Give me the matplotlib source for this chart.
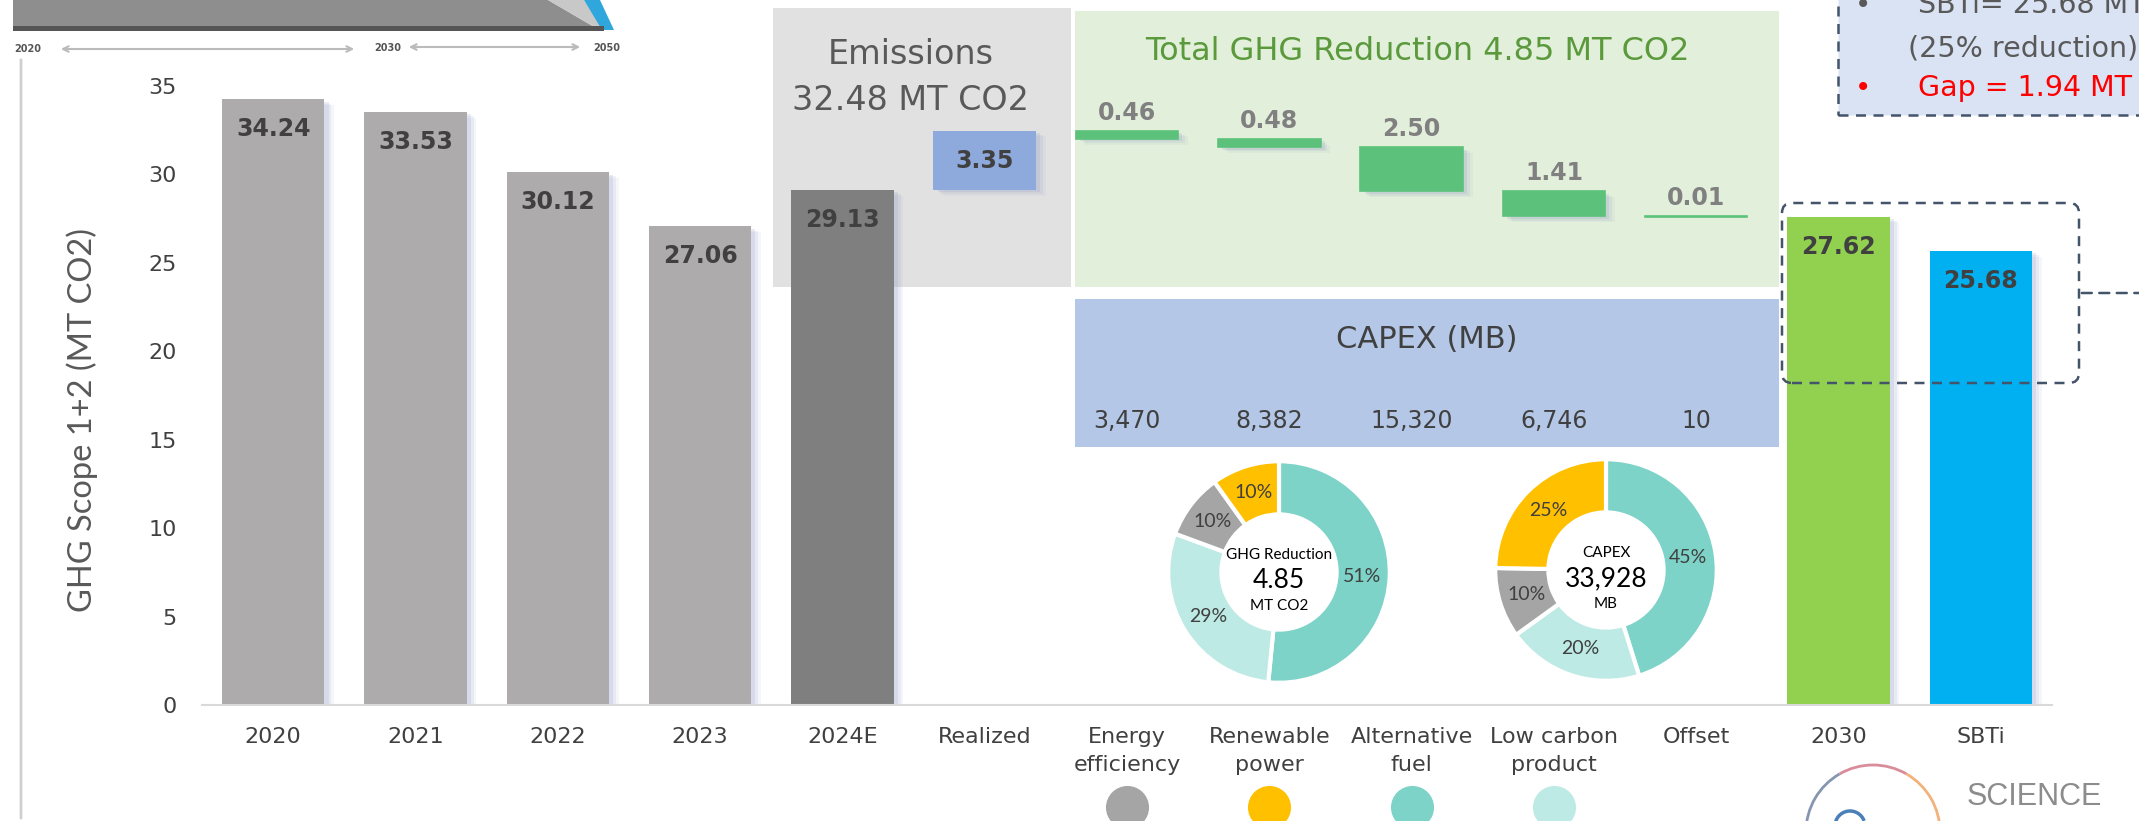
import numpy as np
import matplotlib
matplotlib.use('Agg')
import matplotlib.pyplot as plt
import matplotlib.patheffects as pe
from matplotlib.patches import Rectangle, FancyBboxPatch, Arc, Polygon
from matplotlib.transforms import blended_transform_factory

# figure size in pixels
W, H = 2139, 821
DPI = 100

# data
categories = ['2020', '2021', '2022', '2023', '2024E', 'Realized',
              'Energy\nefficiency', 'Renewable\npower', 'Alternative\nfuel',
              'Low carbon\nproduct', 'Offset', '2030', 'SBTi']
year_values = [34.24, 33.53, 30.12, 27.06, 29.13]
realized = 3.35
reductions = [0.46, 0.48, 2.50, 1.41, 0.01]
target_2030 = 27.62
sbti = 25.68
capex = [3470, 8382, 15320, 6746, 10]
capex_total = 33928
ghg_total = 4.85
emissions_total = 32.48
# donut shares (energy eff, renewable, alt fuel, low carbon) as printed
ghg_pct = ['10%', '10%', '51%', '29%']
capex_pct = ['10%', '25%', '45%', '20%']
lever_colors = ['#A5A5A5', '#FFC000', '#7DD3C8', '#BDEAE4']

fig = plt.figure(figsize=(W / DPI, H / DPI), dpi=DPI)
fig.patch.set_facecolor('white')


def px_rect(x0, y0, x1, y1, **kw):
    # rectangle given in pixels from top-left
    r = Rectangle((x0 / DPI, (H - y1) / DPI), (x1 - x0) / DPI, (y1 - y0) / DPI,
                  transform=fig.dpi_scale_trans, **kw)
    fig.add_artist(r)
    return r


def px_text(x, y, s, **kw):
    return fig.text(x / W, 1 - y / H, s, **kw)


# background panels
px_rect(773, 8, 1071, 287, facecolor='#E1E1E1', edgecolor='none', zorder=-2)
px_rect(1075, 11, 1779, 287, facecolor='#E2EFDA', edgecolor='none', zorder=-2)
px_rect(1075, 299, 1779, 447, facecolor='#B4C7E7', edgecolor='none', zorder=-2)

# main axes
ax = fig.add_axes([202 / W, (H - 705) / H, 1850 / W, (705 - 86) / H])
ax.patch.set_alpha(0)
x = np.arange(len(categories))
# soft bluish shadow on the right side of the bars
shadow = [pe.SimplePatchShadow(offset=(o, -o * 0.6), shadow_rgbFace='#8C96C4', alpha=a)
          for o, a in [(7, 0.08), (5, 0.12), (3, 0.18)]] + [pe.Normal()]
bw = 0.72

bars = []
b = ax.bar(x[:4], year_values[:4], width=bw, color='#ADABAB')
bars += list(b)
b = ax.bar(x[4], year_values[4], width=bw, color='#7F7F7F')
bars += list(b)
b = ax.bar(x[5], realized, bottom=year_values[4], width=bw, color='#8EA9DB')
bars += list(b)

start = year_values[4] + realized
tops = start - np.concatenate([[0], np.cumsum(reductions)[:-1]])
bottoms = tops - np.array(reductions)
rb = ax.bar(x[6:11], reductions, bottom=bottoms, width=bw, color='#5CC27B',
            edgecolor='#5CC27B', linewidth=1.2)
b2030 = ax.bar(x[11], target_2030, width=bw, color='#92D050')
bsbti = ax.bar(x[12], sbti, width=bw, color='#00B0F0')
for p in bars + list(rb) + list(b2030) + list(bsbti):
    p.set_path_effects(shadow)

# value labels inside bar tops
inside = list(zip(x[:5], year_values)) + [(x[5], realized)] + [(x[11], target_2030), (x[12], sbti)]
inside_tops = year_values + [start, target_2030, sbti]
for (xi, v), t in zip(inside, inside_tops):
    ax.annotate(f'{v:.2f}', (xi, t), xytext=(0, -30), textcoords='offset pixels',
                ha='center', va='center', fontsize=17, fontweight='bold', color='#404040')
for xi, v, t in zip(x[6:11], reductions, tops):
    ax.annotate(f'{v:.2f}', (xi, t), xytext=(0, 6), textcoords='offset pixels',
                ha='center', va='bottom', fontsize=17, fontweight='bold', color='#808080')

ax.set_xlim(-0.5, len(categories) - 0.5)
ax.set_ylim(0, 35)
ax.set_yticks(np.arange(0, 36, 5))
ax.set_xticks(x)
ax.set_xticklabels(categories)
ax.tick_params(axis='both', length=0, labelsize=16, labelcolor='#404040')
ax.tick_params(axis='y', pad=18)
ax.tick_params(axis='x', pad=16)
for lab in ax.get_xticklabels():
    lab.set_linespacing(1.5)
for s in ['top', 'right', 'left']:
    ax.spines[s].set_visible(False)
ax.spines['bottom'].set_color('#D9D9D9')
ax.spines['bottom'].set_linewidth(1.5)
ax.set_ylabel('GHG Scope 1+2 (MT CO2)', fontsize=23.5, family='Lato', color='#595959', va='center')
ax.yaxis.set_label_coords((82 - 202) / 1850, (705 - 420) / 619)

# legend dots below lever labels
bt = blended_transform_factory(ax.transData, fig.transFigure)
for xi, c in zip(x[6:10], lever_colors):
    ax.plot([xi], [1 - 807 / H], 'o', color=c, markersize=30, transform=bt, clip_on=False)

# panel titles
px_text(911, 55, 'Emissions', ha='center', va='center', fontsize=24, color='#595959')
px_text(911, 100, f'{emissions_total:.2f} MT CO2', ha='center', va='center', fontsize=24, color='#595959')
px_text(1417, 52, f'Total GHG Reduction {ghg_total:.2f} MT CO2', ha='center', va='center',
        fontsize=23, color='#5B9A3C')
px_text(1427, 340, 'CAPEX (MB)', ha='center', va='center', fontsize=22, color='#404040')
for xi, v in zip(x[6:11], capex):
    ax.text(xi, 1 - 421 / H, f'{v:,}', transform=bt, ha='center', va='center',
            fontsize=17, color='#404040')

# donuts
order = [2, 3, 0, 1]


def donut(cx, cy, vals, pct, title, big, unit):
    d = 226
    dax = fig.add_axes([(cx - d / 2) / W, (H - cy - d / 2) / H, d / W, d / H])
    wedges, texts = dax.pie([vals[i] for i in order], colors=[lever_colors[i] for i in order],
                            labels=[pct[i] for i in order], labeldistance=0.75,
                            startangle=90, counterclock=False,
                            wedgeprops=dict(width=0.48, edgecolor='white', linewidth=3))
    for t in texts:
        t.set_ha('center')
        t.set_va('center')
        t.set_fontsize(14)
        t.set_family('Lato')
        t.set_color('#404040')
    dax.set_xlim(-1.02, 1.02)
    dax.set_ylim(-1.02, 1.02)
    dax.text(0, 0.15, title, ha='center', va='center', fontsize=11, family='Lato')
    dax.text(0, -0.08, big, ha='center', va='center', fontsize=19, family='Lato')
    dax.text(0, -0.31, unit, ha='center', va='center', fontsize=11, family='Lato')


donut(1279, 572, reductions[:4], ghg_pct, 'GHG Reduction', f'{ghg_total:.2f}', 'MT CO2')
donut(1606, 570, capex[:4], capex_pct, 'CAPEX', f'{capex_total:,}', 'MB')

# dashed box around 2030 / SBTi
box = FancyBboxPatch((1782 / DPI, (H - 383) / DPI), (2079 - 1782) / DPI, (383 - 203) / DPI,
                     boxstyle='round,pad=0,rounding_size=0.1', transform=fig.dpi_scale_trans,
                     facecolor='none', edgecolor='#44546A', linewidth=1.8, linestyle=(0, (4, 3)))
fig.add_artist(box)
ax.annotate('', xy=(W + 5, H - 293), xytext=(2079, H - 293), xycoords='figure pixels',
            arrowprops=dict(arrowstyle='-', color='#44546A', lw=1.8, linestyle=(0, (4, 3))))

# top-right note box
px_rect(1838, -20, 2160, 115, facecolor='#DAE3F3', edgecolor='#44546A', linewidth=1.8,
        linestyle=(0, (4, 3)), zorder=-1)
px_text(1863, 5, '•', ha='center', va='center', fontsize=20, color='#595959')
px_text(1918, 5, f'SBTi= {sbti:.2f} MT', ha='left', va='center', fontsize=20.5, color='#595959')
px_text(1908, 49, '(25% reduction)', ha='left', va='center', fontsize=20.5, color='#595959')
px_text(1863, 88, '•', ha='center', va='center', fontsize=20, color='#FF0000')
px_text(1918, 88, f'Gap = {target_2030 - sbti:.2f} MT', ha='left', va='center', fontsize=20.5,
        color='#FF0000')

# top-left cropped picture strip
def px_poly(pts, **kw):
    p = Polygon([(a / DPI, (H - b) / DPI) for a, b in pts], closed=True,
                transform=fig.dpi_scale_trans, **kw)
    fig.add_artist(p)


px_poly([(13, 0), (548, 0), (596, 28), (13, 28)], facecolor='#8E8E8E', edgecolor='none')
px_poly([(548, 0), (584, 0), (602, 28), (596, 28)], facecolor='#C8C8C8', edgecolor='none')
px_poly([(584, 0), (600, 0), (614, 30), (602, 30)], facecolor='#2FA7DC', edgecolor='none')
px_rect(13, 26, 604, 31, facecolor='#555555', edgecolor='none')
px_text(28, 49, '2020', ha='center', va='center', fontsize=7, color='#555555', fontweight='bold')
px_text(388, 48, '2030', ha='center', va='center', fontsize=7, color='#555555', fontweight='bold')
px_text(607, 48, '2050', ha='center', va='center', fontsize=7, color='#555555', fontweight='bold')
ax.annotate('', xy=(357, H - 49), xytext=(58, H - 49), xycoords='figure pixels',
            arrowprops=dict(arrowstyle='<->', color='#BBBBBB', lw=1.5))
ax.annotate('', xy=(583, H - 47), xytext=(406, H - 47), xycoords='figure pixels',
            arrowprops=dict(arrowstyle='<->', color='#BBBBBB', lw=1.5))
ax.annotate('', xy=(21, 0), xytext=(21, H - 57), xycoords='figure pixels',
            arrowprops=dict(arrowstyle='-', color='#D0D0D0', lw=2))

# SBTi logo fragment
for t1, t2, c in [(120, 180, '#8796B0'), (60, 120, '#D98C9A'), (0, 60, '#F2B27A')]:
    fig.add_artist(Arc((18.73, (H - 832) / DPI), 1.34, 1.34, theta1=t1, theta2=t2,
                       transform=fig.dpi_scale_trans, color=c, lw=2))
fig.add_artist(Arc((18.50, (H - 826) / DPI), 0.3, 0.3, theta1=20, theta2=180,
                   transform=fig.dpi_scale_trans, color='#4A7FB8', lw=2.5))
px_text(1967, 797, 'SCIENCE', ha='left', va='center', fontsize=22, family='Liberation Sans',
        color='#8C8C8C')

fig.savefig('out.png', dpi=DPI)
